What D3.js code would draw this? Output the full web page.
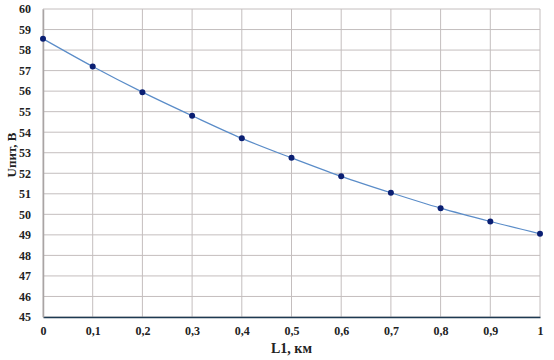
<!DOCTYPE html>
<html>
<head>
<meta charset="utf-8">
<script src="https://cdn.jsdelivr.net/npm/d3@7"></script>
<style>
  body { margin: 0; background: #fff; }
  text { font-family: "Liberation Serif", "Times New Roman", serif; }
</style>
</head>
<body>
<div id="chart"></div>
<script>
// Data
const lengths = [0, 0.1, 0.2, 0.3, 0.4, 0.5, 0.6, 0.7, 0.8, 0.9, 1];
const voltages = [58.55, 57.2, 55.95, 54.8, 53.7, 52.75, 51.85, 51.05, 50.3, 49.65, 49.05];
const xTicks = [0, 0.1, 0.2, 0.3, 0.4, 0.5, 0.6, 0.7, 0.8, 0.9, 1];
const yTicks = [45, 46, 47, 48, 49, 50, 51, 52, 53, 54, 55, 56, 57, 58, 59, 60];

const width = 554;
const height = 360;
const margin = { top: 9, right: 14, bottom: 43, left: 43 };

const svg = d3.select("#chart")
  .append("svg")
  .attr("width", width)
  .attr("height", height);

const x = d3.scaleLinear()
  .domain([0, 1])
  .range([margin.left, width - margin.right]);

const y = d3.scaleLinear()
  .domain([45, 60])
  .range([height - margin.bottom, margin.top]);

// Grid
svg.append("g")
  .selectAll("line")
  .data(yTicks)
  .join("line")
  .attr("x1", margin.left)
  .attr("x2", width - margin.right)
  .attr("y1", d => y(d))
  .attr("y2", d => y(d))
  .attr("stroke", "#c4bebe")
  .attr("stroke-width", 1);

svg.append("g")
  .selectAll("line")
  .data(xTicks)
  .join("line")
  .attr("x1", d => x(d))
  .attr("x2", d => x(d))
  .attr("y1", margin.top)
  .attr("y2", height - margin.bottom)
  .attr("stroke", "#c4bebe")
  .attr("stroke-width", 1);

// Axes
const fmt = d => String(d).replace(".", ",");

const xAxis = svg.append("g")
  .attr("transform", `translate(0,${height - margin.bottom})`)
  .call(d3.axisBottom(x).tickValues(xTicks).tickFormat(fmt).tickSize(0).tickPadding(9));
xAxis.select(".domain").attr("stroke", "#1d3a52").attr("stroke-width", 1.5);
xAxis.selectAll("text")
  .attr("font-size", 12)
  .attr("font-weight", "bold")
  .attr("fill", "#222");

const yAxis = svg.append("g")
  .attr("transform", `translate(${margin.left},0)`)
  .call(d3.axisLeft(y).tickValues(yTicks).tickSize(0).tickPadding(12));
yAxis.select(".domain").attr("stroke", "#a9a4a4").attr("stroke-width", 1.5);
yAxis.selectAll("text")
  .attr("font-size", 12)
  .attr("font-weight", "bold")
  .attr("fill", "#222");

// Line
const data = lengths.map((d, i) => ({ l: d, u: voltages[i] }));

svg.append("path")
  .datum(data)
  .attr("fill", "none")
  .attr("stroke", "#5a8cc8")
  .attr("stroke-width", 1.2)
  .attr("d", d3.line().x(d => x(d.l)).y(d => y(d.u)).curve(d3.curveMonotoneX));

svg.append("g")
  .selectAll("circle")
  .data(data)
  .join("circle")
  .attr("cx", d => x(d.l))
  .attr("cy", d => y(d.u))
  .attr("r", 3)
  .attr("fill", "#0b1f73");

// Axis titles
svg.append("text")
  .attr("x", (margin.left + width - margin.right) / 2)
  .attr("y", 353)
  .attr("text-anchor", "middle")
  .attr("font-size", 14)
  .attr("font-weight", "bold")
  .attr("fill", "#222")
  .text("L1, км");

svg.append("text")
  .attr("transform", "translate(11,155) rotate(-90)")
  .attr("text-anchor", "middle")
  .attr("dy", "0.35em")
  .attr("font-size", 13)
  .attr("font-weight", "bold")
  .attr("fill", "#222")
  .text("Uпит, В");
</script>
</body>
</html>
